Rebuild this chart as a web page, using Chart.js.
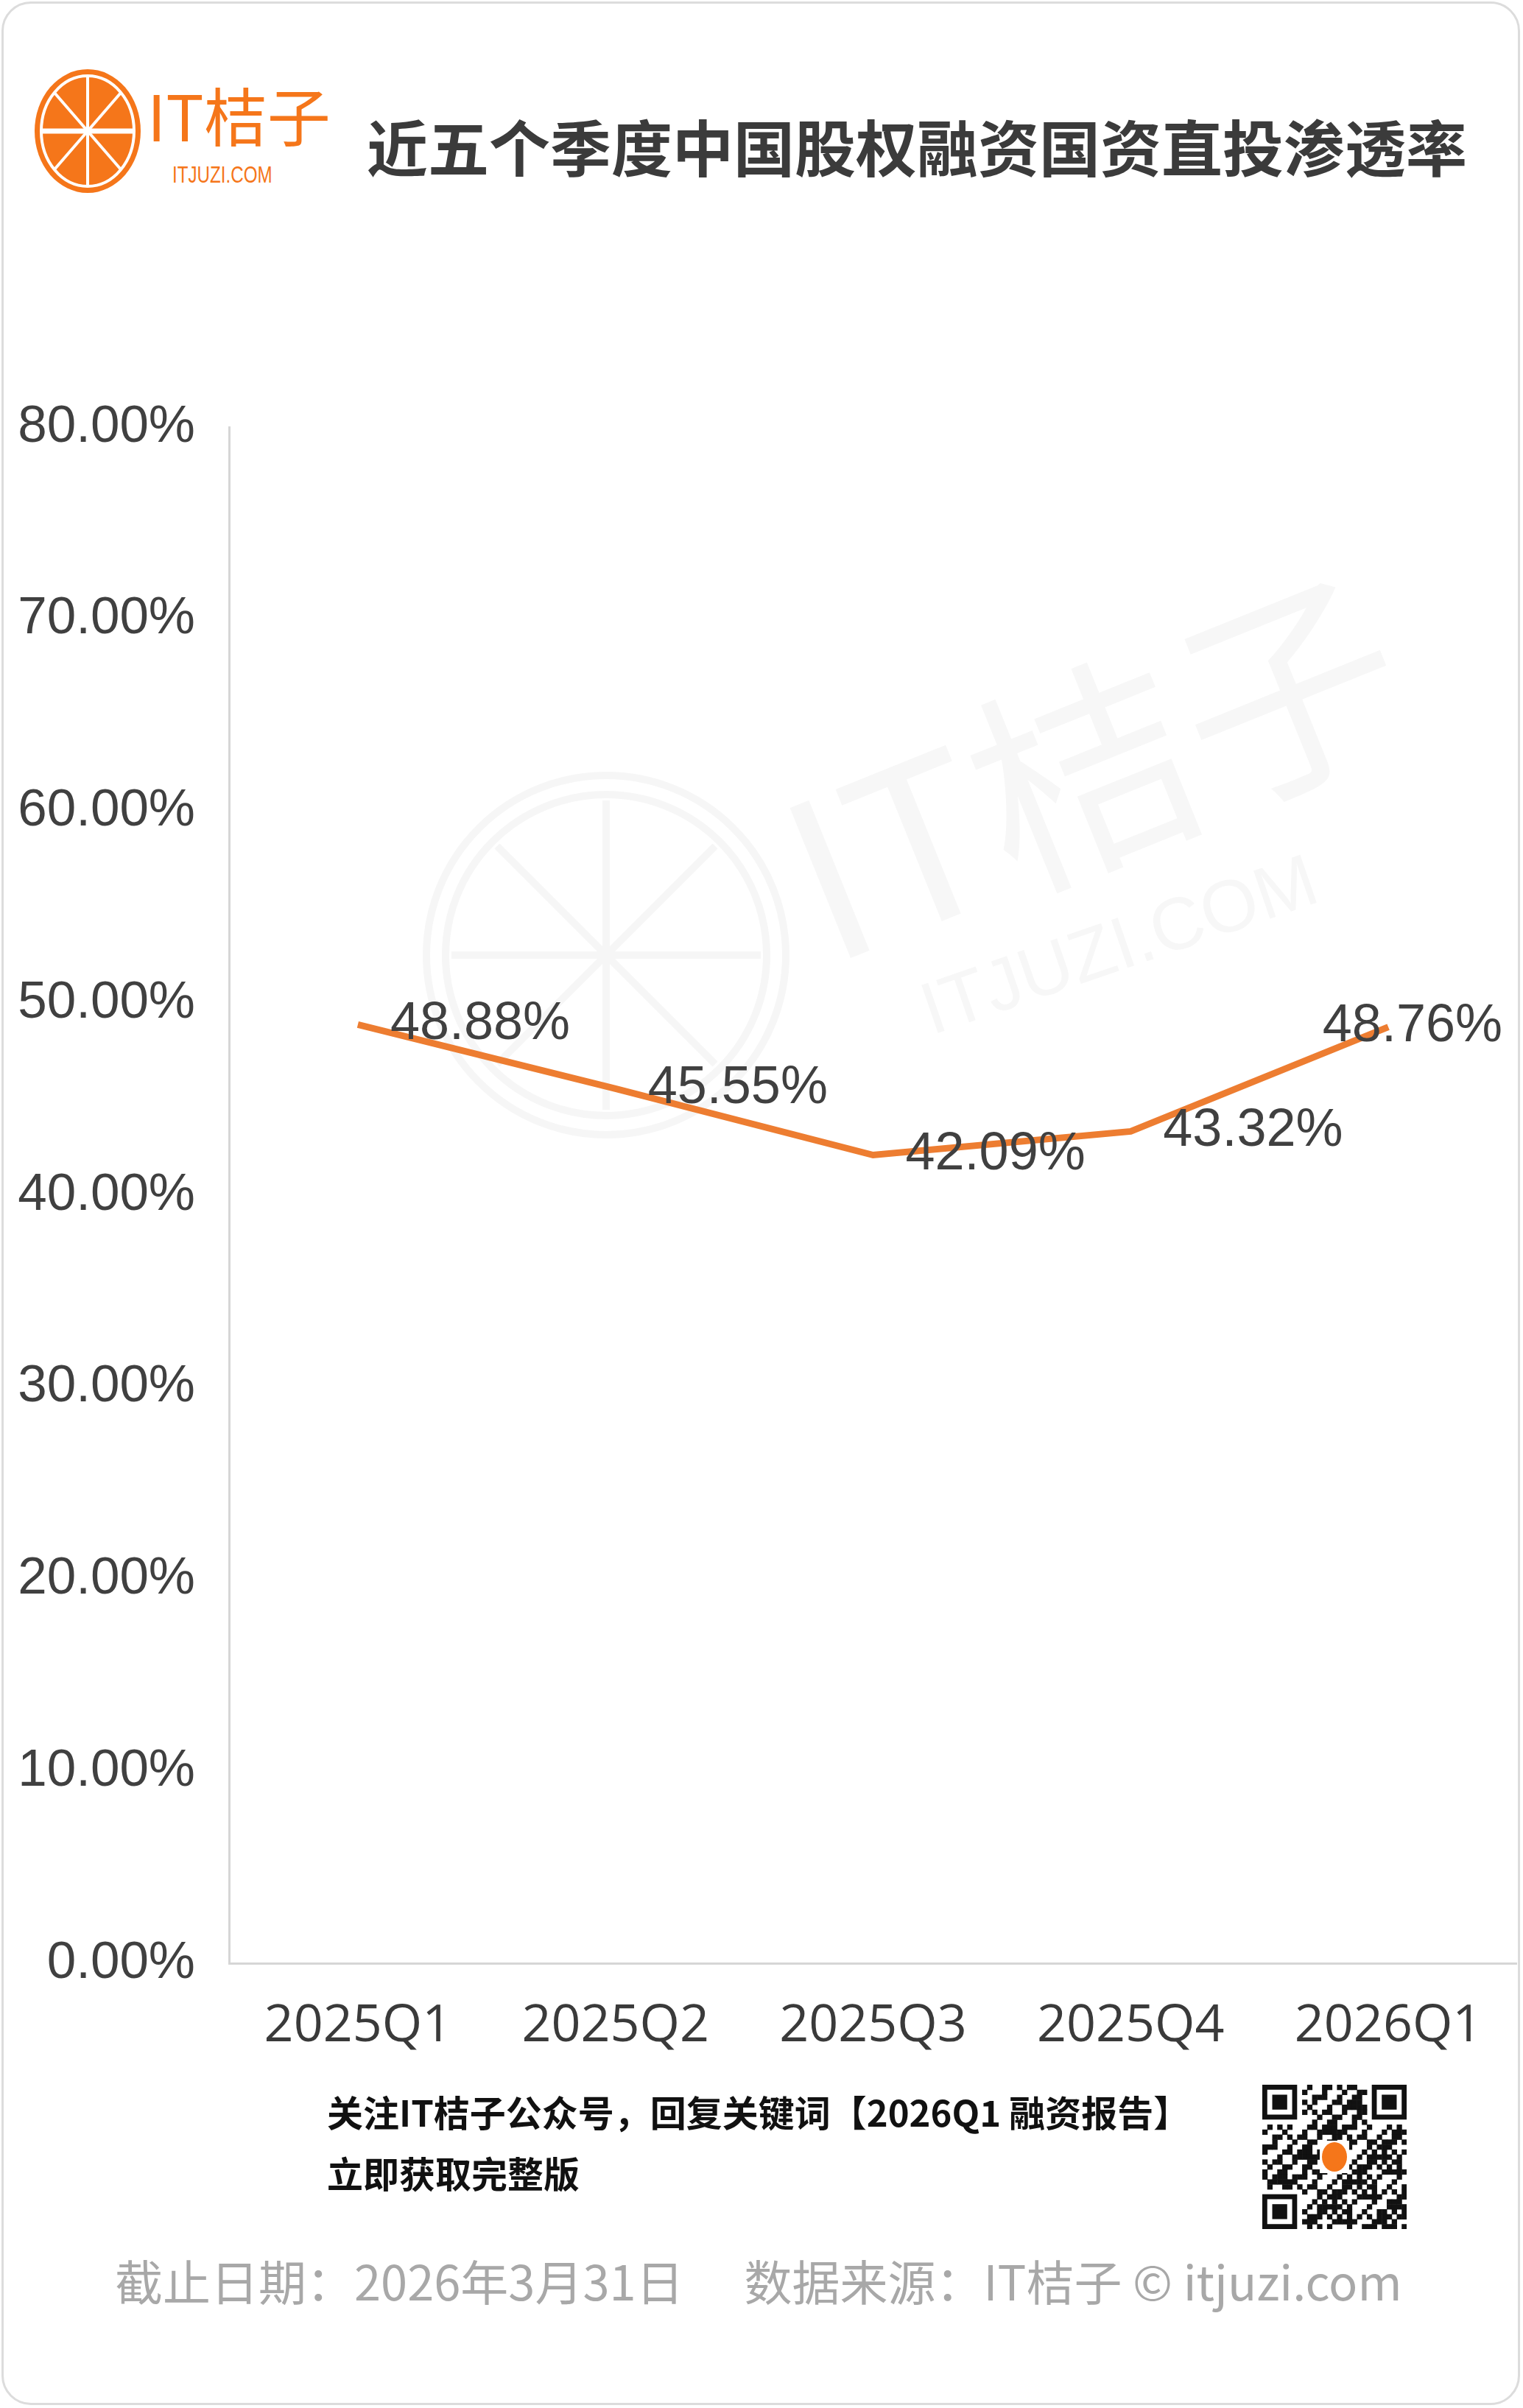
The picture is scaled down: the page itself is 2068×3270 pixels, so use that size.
<!DOCTYPE html>
<html>
<head>
<meta charset="utf-8">
<script src="https://cdn.jsdelivr.net/npm/chart.js@4.4.1/dist/chart.umd.min.js"></script>
<style>
  html, body { margin: 0; padding: 0; background: #fff; }
  body { width: 2068px; height: 3270px; position: relative; overflow: hidden; font-family: "Noto Sans CJK SC", "Noto Sans", sans-serif; }
  .card { position: absolute; left: 2px; top: 2px; width: 2062px; height: 3264px; box-sizing: border-box; border: 3px solid #dcdcdc; border-radius: 40px; }
  .abs { position: absolute; white-space: nowrap; }
  #title { left: 498px; top: 156px; font-size: 83px; font-weight: 700; color: #3b3b3b; line-height: 1; }
  #brand { left: 200px; top: 112px; font-size: 86px; color: #f5761a; line-height: 1; }
  #brandSub { left: 234px; top: 222px; font-size: 31px; color: #f5761a; line-height: 1; font-family: "Liberation Sans", sans-serif; transform: scaleX(0.78); transform-origin: left top; }
  .wm { color: #f7f7f7; font-family: "Noto Sans CJK SC", sans-serif; }
  #note1 { left: 444px; top: 2842px; font-size: 49px; font-weight: 700; color: #111; line-height: 1; }
  #note2 { left: 444px; top: 2925px; font-size: 49px; font-weight: 700; color: #111; line-height: 1; }
  #source { left: 156px; top: 3064px; font-size: 65px; color: #a8a8a8; line-height: 1; }
  #chartBox { position: absolute; left: 0; top: 480px; width: 2060px; height: 2340px; }
</style>
</head>
<body>
<div class="card"></div>

<!-- watermark -->
<svg class="abs" style="left:553px;top:1027px" width="540" height="540" viewBox="0 0 540 540">
  <g fill="none" stroke="#f6f6f6" stroke-width="10">
    <circle cx="270" cy="270" r="244"/>
    <circle cx="270" cy="270" r="218"/>
    <line x1="270" y1="60" x2="270" y2="480"/>
    <line x1="60" y1="270" x2="480" y2="270"/>
    <line x1="122" y1="122" x2="418" y2="418"/>
    <line x1="418" y1="122" x2="122" y2="418"/>
  </g>
</svg>
<div class="abs wm" style="left:1134px;top:1030px;font-size:300px;transform:rotate(-22deg);transform-origin:left bottom;line-height:1">IT桔子</div>
<div class="abs wm" style="left:1270px;top:1320px;font-size:100px;transform:rotate(-19deg);transform-origin:left bottom;line-height:1;font-family:'Liberation Sans',sans-serif">ITJUZI.COM</div>

<!-- logo -->
<svg class="abs" style="left:44px;top:92px" width="150" height="172" viewBox="0 0 150 172">
  <ellipse cx="75" cy="86" rx="72" ry="84" fill="#f5761a"/>
  <ellipse cx="75" cy="86" rx="63" ry="75" fill="none" stroke="#fff" stroke-width="4"/>
  <g stroke="#fff" stroke-width="4">
    <line x1="75" y1="12" x2="75" y2="160"/>
    <line x1="12" y1="86" x2="138" y2="86" stroke-width="7"/>
    <line x1="30" y1="34" x2="120" y2="138"/>
    <line x1="120" y1="34" x2="30" y2="138"/>
  </g>
</svg>
<div class="abs" id="brand">IT桔子</div>
<div class="abs" id="brandSub">ITJUZI.COM</div>
<div class="abs" id="title">近五个季度中国股权融资国资直投渗透率</div>

<div id="chartBox"><canvas id="lineChart"></canvas></div>

<div class="abs" id="note1">关注IT桔子公众号，回复关键词【2026Q1 融资报告】</div>
<div class="abs" id="note2">立即获取完整版</div>
<canvas class="abs" id="qr" style="left:1714px;top:2831px" width="196" height="196"></canvas>
<div class="abs" id="source">截止日期：2026年3月31日<span style="display:inline-block;width:82px"></span>数据来源：IT桔子 © itjuzi.com</div>

<script>
var quarters = ["2025Q1", "2025Q2", "2025Q3", "2025Q4", "2026Q1"];
var penetration = [48.88, 45.55, 42.09, 43.32, 48.76];
var yTicks = [0, 10, 20, 30, 40, 50, 60, 70, 80];

// value labels to the right of each point
var valueLabels = {
  id: "valueLabels",
  afterDatasetsDraw: function (chart) {
    var ctx = chart.ctx;
    var meta = chart.getDatasetMeta(0);
    ctx.save();
    ctx.font = "72px 'Liberation Sans', Arial, sans-serif";
    ctx.fillStyle = "#404040";
    ctx.textBaseline = "middle";
    ctx.textAlign = "left";
    meta.data.forEach(function (pt, i) {
      var txt = penetration[i].toFixed(2) + "%";
      var w = ctx.measureText(txt).width;
      var x = pt.x + 44;
      if (x + w > chart.width - 20) x = chart.width - 20 - w;
      ctx.fillText(txt, x, pt.y);
    });
    ctx.restore();
  }
};

new Chart(document.getElementById("lineChart"), {
  type: "line",
  data: {
    labels: quarters,
    datasets: [{
      data: penetration,
      borderColor: "#ed7d31",
      borderWidth: 9,
      tension: 0,
      pointRadius: 0,
      fill: false
    }]
  },
  options: {
    responsive: true,
    maintainAspectRatio: false,
    animation: false,
    layout: { padding: { top: 100, right: 0, left: 0, bottom: 0 } },
    plugins: { legend: { display: false }, tooltip: { enabled: false } },
    scales: {
      x: {
        offset: true,
        grid: { display: false, drawTicks: false },
        border: { display: true, color: "#d6d6d6", width: 3 },
        ticks: { color: "#3a3a3a", padding: 44, font: { family: "'Open Sans', sans-serif", size: 70 } },
        afterFit: function (s) { s.height = 154; }
      },
      y: {
        min: 0,
        max: 80,
        afterBuildTicks: function (s) { s.ticks = yTicks.map(function (v) { return { value: v }; }); },
        grid: { display: false, drawTicks: false },
        border: { display: true, color: "#d6d6d6", width: 3 },
        ticks: {
          color: "#404040",
          padding: 46,
          font: { family: "'Liberation Sans', Arial, sans-serif", size: 71 },
          callback: function (v) { return Number(v).toFixed(2) + "%"; }
        },
        afterFit: function (s) { s.width = 311; }
      }
    }
  },
  plugins: [valueLabels]
});

// decorative QR-style block
(function () {
  var c = document.getElementById("qr").getContext("2d");
  var n = 29, m = 196 / n;
  c.fillStyle = "#fff";
  c.fillRect(0, 0, 196, 196);
  c.fillStyle = "#111";
  function finder(x, y) {
    c.fillRect(x * m, y * m, 7 * m, 7 * m);
    c.fillStyle = "#fff"; c.fillRect((x + 1) * m, (y + 1) * m, 5 * m, 5 * m);
    c.fillStyle = "#111"; c.fillRect((x + 2) * m, (y + 2) * m, 3 * m, 3 * m);
  }
  for (var i = 0; i < n; i++) {
    for (var j = 0; j < n; j++) {
      var inF = (i < 8 && j < 8) || (i > n - 9 && j < 8) || (i < 8 && j > n - 9);
      if (inF) continue;
      if (((i * 7 + j * 13 + (i * j) % 5) % 3) === 0 || ((i ^ j) % 4) === 1) c.fillRect(i * m, j * m, m + 0.5, m + 0.5);
    }
  }
  finder(0, 0); finder(n - 7, 0); finder(0, n - 7);
  c.fillStyle = "#fff";
  c.fillRect(78, 76, 40, 44);
  c.fillStyle = "#f5761a";
  c.beginPath(); c.ellipse(98, 98, 17, 20, 0, 0, Math.PI * 2); c.fill();
})();
</script>
</body>
</html>
